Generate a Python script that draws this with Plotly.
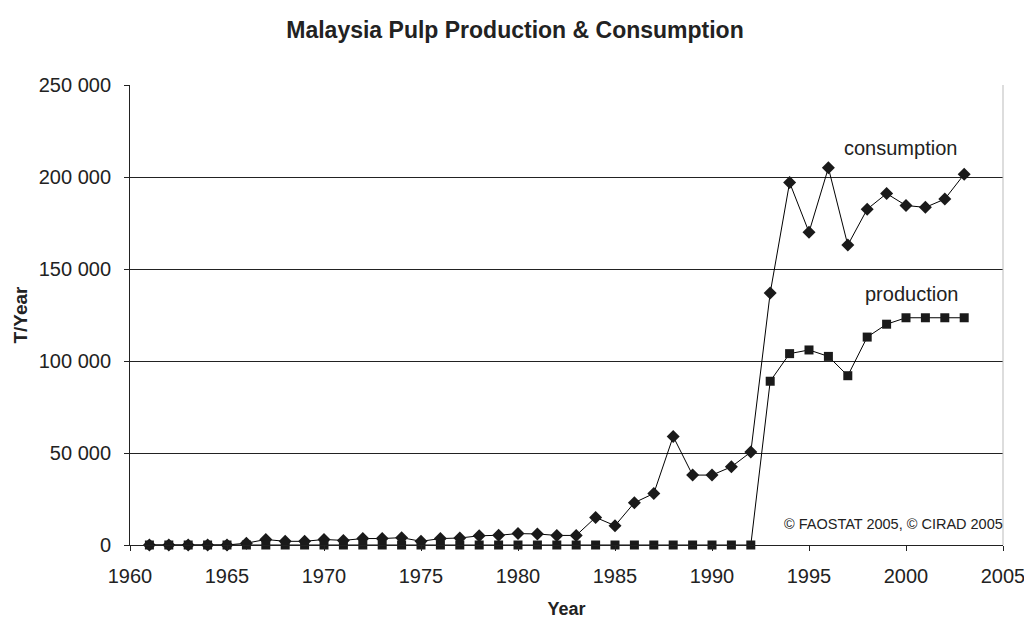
import plotly.graph_objects as go

years = list(range(1961, 2004))
consumption = [0, 0, 0, 0, 0, 1000, 3000, 2000, 2000, 3000, 2500, 3500, 3500, 4000, 2000,
               3500, 3800, 5000, 5300, 6200, 6000, 5200, 5200, 15000, 10500, 23000, 28000,
               59000, 38000, 38000, 42500, 50500, 137000, 197000, 170000, 205000, 163000,
               182500, 191000, 184500, 183500, 188000, 201500]
production = [0] * 32 + [89000, 104000, 106000, 102500, 92000, 113000, 120000,
                         123500, 123500, 123500, 123500]

font_family = "Liberation Sans, Arial, sans-serif"
ink = "#222222"

fig = go.Figure()
fig.add_trace(go.Scatter(x=years, y=consumption, mode="lines+markers", name="consumption",
                         line=dict(color="#000000", width=1), cliponaxis=False,
                         marker=dict(symbol="diamond", size=10, color="#1a1a1a")))
fig.add_trace(go.Scatter(x=years, y=production, mode="lines+markers", name="production",
                         line=dict(color="#000000", width=1), cliponaxis=False,
                         marker=dict(symbol="square", size=9, color="#1a1a1a")))

fig.update_layout(
    width=1024, height=619,
    paper_bgcolor="white", plot_bgcolor="white",
    margin=dict(l=130, r=21, t=85, b=74, autoexpand=False),
    showlegend=False,
    separators=". ",
    font=dict(family=font_family, size=20, color=ink),
    title=dict(text="<b>Malaysia Pulp Production &amp; Consumption</b>",
               x=515 / 1024, xanchor="center", y=1 - 30 / 619, yanchor="middle",
               font=dict(size=23, color=ink)),
    xaxis=dict(range=[1960, 2005], dtick=5, tick0=1960, showgrid=False,
               showline=True, linecolor=ink, linewidth=1,
               ticks="outside", ticklen=5, tickcolor=ink,
               ticklabelstandoff=8, automargin=False, ticklabeloverflow="allow",
               title=dict(text="<b>Year</b>", font=dict(size=18), standoff=17),
               zeroline=False),
    yaxis=dict(range=[0, 250000], dtick=50000, tickformat=",d",
               showgrid=True, gridcolor=ink, gridwidth=1,
               showline=True, linecolor=ink, linewidth=1,
               ticks="outside", ticklen=5, tickcolor=ink,
               ticklabelstandoff=9, automargin=False,
               title=dict(text="<b>T/Year</b>", font=dict(size=19), standoff=6),
               zeroline=False),
    annotations=[
        dict(x=1999.7, y=215500, xref="x", yref="y", text="consumption", showarrow=False,
             font=dict(size=20, color=ink)),
        dict(x=2000.3, y=136500, xref="x", yref="y", text="production", showarrow=False,
             font=dict(size=20, color=ink)),
        dict(x=1.0, y=11500, xref="paper", yref="y", text="© FAOSTAT 2005, © CIRAD 2005",
             showarrow=False, xanchor="right", xshift=2, font=dict(size=14.5, color=ink)),
    ],
    shapes=[dict(type="line", xref="paper", yref="paper", x0=1, x1=1, y0=0, y1=1,
                 line=dict(color="#bbbbbb", width=1))],
)

fig.write_html("out.html", config={"displayModeBar": False},
               post_script="document.body.style.margin='0';")
